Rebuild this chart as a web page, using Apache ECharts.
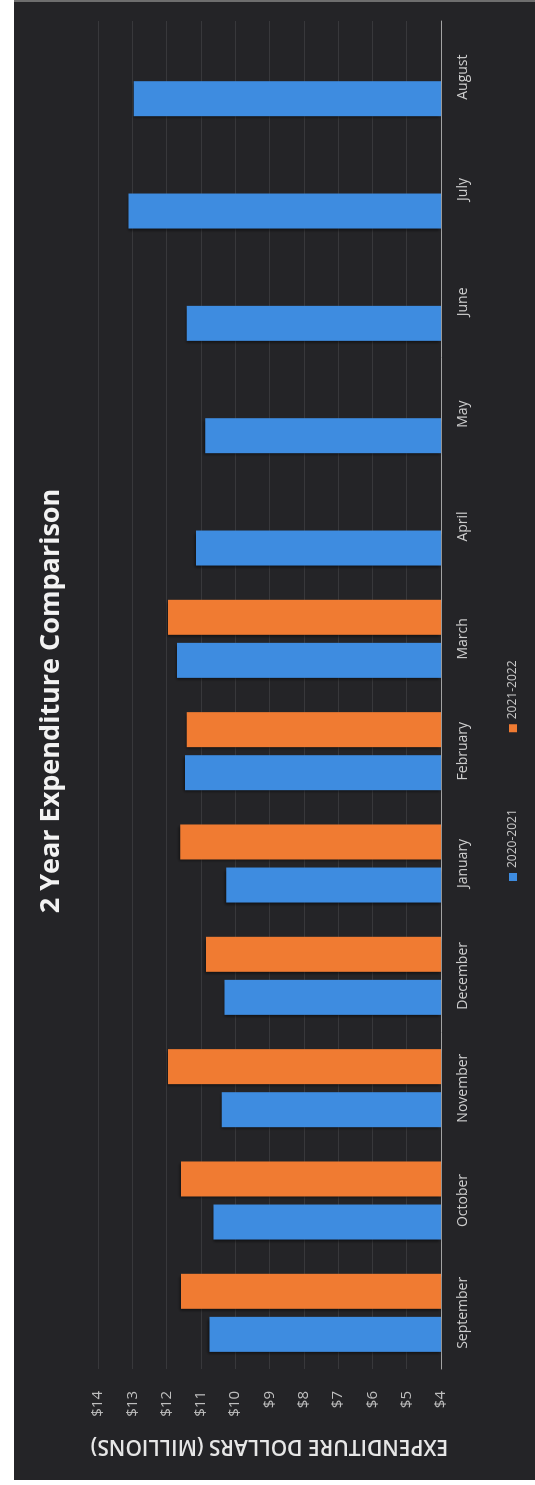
<!DOCTYPE html>
<html>
<head>
<meta charset="utf-8">
<title>2 Year Expenditure Comparison</title>
<script src="https://cdn.jsdelivr.net/npm/echarts@6/dist/echarts.min.js"></script>
<style>
  html, body { margin: 0; padding: 0; background: #fff; }
  body { width: 535px; height: 1485px; position: relative; overflow: hidden; }
  /* dark slide behind the chart (the scan has a thin white margin left and bottom) */
  #panel { position: absolute; left: 14px; top: 0; width: 521px; height: 1480px; background: #242427; border-top: 2px solid #6e6e6e; box-sizing: border-box; }
  /* chart is drawn landscape, then turned a quarter turn counter-clockwise */
  #chart { position: absolute; left: 0; top: 0; width: 1485px; height: 535px; transform-origin: 0 0; transform: translateY(1485px) rotate(-90deg); }
</style>
</head>
<body>
<div id="panel"></div>
<div id="chart"></div>
<script>
const months = ['September', 'October', 'November', 'December', 'January', 'February',
  'March', 'April', 'May', 'June', 'July', 'August']
// millions of dollars
const spend2021 = [10.75, 10.63, 10.39, 10.31, 10.26, 11.46, 11.70, 11.14, 10.87, 11.41, 13.11, 12.96]
const spend2022 = [11.58, 11.58, 11.96, 10.85, 11.60, 11.41, 11.96, null, null, null, null, null]
const seriesNames = ['2020-2021', '2021-2022']
const valueMin = 4
const valueMax = 14
const valueStep = 1

const font = '"Open Sans", "Noto Sans", sans-serif'
const chart = echarts.init(document.getElementById('chart'))

const barShadow = {
  shadowColor: 'rgba(0, 0, 0, 0.55)',
  shadowBlur: 3,
  shadowOffsetX: -2,
  shadowOffsetY: -1
}

chart.setOption({
  backgroundColor: 'transparent',
  animation: false,
  textStyle: { fontFamily: font },
  title: {
    text: '2 Year Expenditure Comparison',
    left: 779,
    top: 33,
    textAlign: 'center',
    textStyle: { color: '#f2f2f2', fontSize: 27, fontWeight: 'bold', fontFamily: font }
  },
  legend: {
    data: seriesNames,
    left: 599,
    top: 502,
    icon: 'rect',
    itemWidth: 8,
    itemHeight: 8,
    itemGap: 77,
    textStyle: { color: '#c9c9c9', fontSize: 12, fontFamily: font }
  },
  grid: {
    left: 116,
    right: 21,
    top: 98,
    bottom: 94,
    outerBoundsMode: 'none'
  },
  xAxis: {
    type: 'category',
    data: months,
    axisLine: { lineStyle: { color: '#a3a3a3', width: 1 } },
    axisTick: { show: false },
    axisLabel: { color: '#cdcdcd', fontSize: 14, margin: 15, fontFamily: font },
    splitLine: { show: false }
  },
  yAxis: {
    type: 'value',
    min: valueMin,
    max: valueMax,
    interval: valueStep,
    name: 'EXPENDITURE DOLLARS (MILLIONS)',
    nameLocation: 'middle',
    nameGap: 66,
    nameTextStyle: { color: '#e6e6e6', fontSize: 21, fontWeight: 600, fontFamily: font },
    axisLine: { show: false },
    axisTick: { show: false },
    axisLabel: {
      color: '#bebebe',
      fontSize: 15,
      margin: 22,
      fontFamily: font,
      formatter: v => '$' + v
    },
    splitLine: { lineStyle: { color: 'rgba(255, 255, 255, 0.09)', width: 1 } }
  },
  series: [
    {
      name: seriesNames[0],
      type: 'bar',
      data: spend2021,
      barWidth: 35,
      barGap: '23%',
      itemStyle: Object.assign({ color: '#3e8ce0' }, barShadow)
    },
    {
      name: seriesNames[1],
      type: 'bar',
      data: spend2022,
      barWidth: 35,
      itemStyle: Object.assign({ color: '#f07b32' }, barShadow)
    }
  ]
})
</script>
</body>
</html>
